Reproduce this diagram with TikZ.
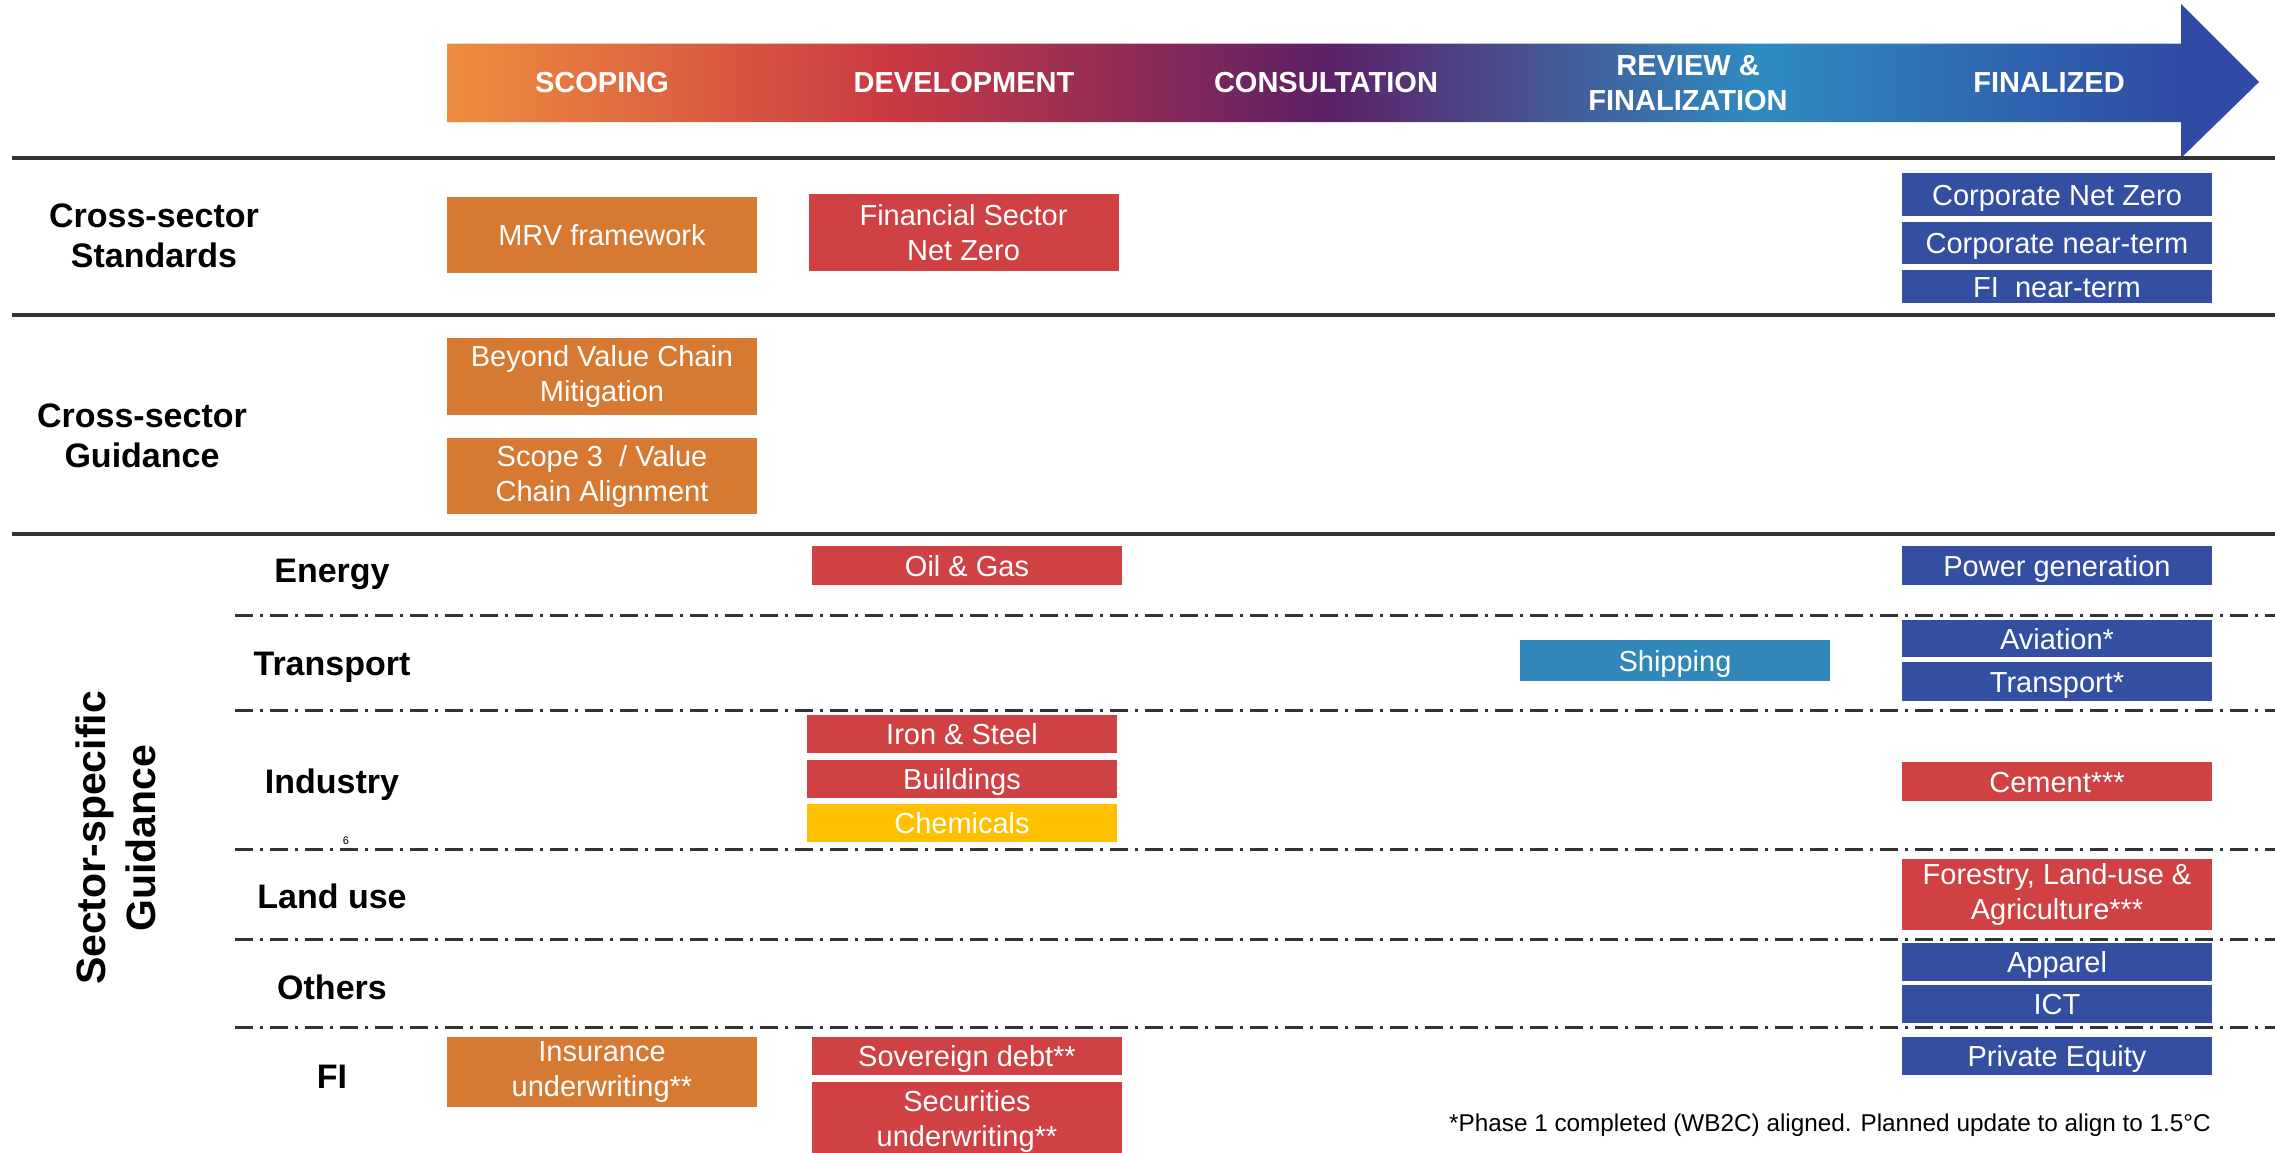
\documentclass[tikz,border=0pt]{standalone}
\usepackage{fontspec}
\setmainfont{Liberation Sans}
\definecolor{gA}{HTML}{EE8D3E}
\definecolor{gB}{HTML}{CB3A42}
\definecolor{gC}{HTML}{5D2066}
\definecolor{gD}{HTML}{2F8BC1}
\definecolor{gE}{HTML}{2F4BA3}
\definecolor{cOr}{HTML}{D67932}
\definecolor{cRd}{HTML}{D04143}
\definecolor{cBl}{HTML}{344EA2}
\definecolor{cSh}{HTML}{2F88B9}
\definecolor{cYe}{HTML}{FFC000}
\definecolor{cLn}{HTML}{333333}
\pgfdeclarehorizontalshading{stagegrad}{100bp}{color(0bp)=(gA); color(25bp)=(gA); color(37.2bp)=(gB); color(49.2bp)=(gC); color(61.2bp)=(gD); color(72.9bp)=(gE); color(100bp)=(gE)}
\begin{document}
\begin{tikzpicture}[x=1pt,y=-1pt,
  box/.style={rectangle, minimum width=310pt, inner sep=0pt, text=white, align=center, font=\fontsize{29}{35}\selectfont},
  one/.style={text height=21pt, text depth=0pt},
  obox/.style={box, fill=cOr},
  rbox/.style={box, fill=cRd},
  bbox/.style={box, fill=cBl},
  sbox/.style={box, fill=cSh},
  ybox/.style={box, fill=cYe},
  stage/.style={text=white, align=center, inner sep=0pt, font=\bfseries\fontsize{29}{35}\selectfont},
  rowlab/.style={align=center, inner sep=0pt, font=\bfseries\fontsize{34}{40}\selectfont},
  solidrule/.style={cLn, line width=3.5pt},
  dashrule/.style={cLn, line width=3pt, dash pattern=on 18pt off 7pt on 3pt off 7pt}]
\useasboundingbox[fill=white] (0,0) rectangle (2275,1152);

% stage arrow
\shade[shading=stagegrad] (447,43.5) -- (2181,43.5) -- (2181,4) -- (2259,82) -- (2181,158) -- (2181,122) -- (447,122) -- cycle;
\node[stage] (st1) at (602,83) {SCOPING};
\node[stage] (st2) at (964,83) {DEVELOPMENT};
\node[stage] (st3) at (1326,83) {CONSULTATION};
\node[stage] (st4) at (1688,83) {REVIEW \&\\FINALIZATION};
\node[stage] (st5) at (2049,83) {FINALIZED};

% rules
\coordinate (r1a) at (12,158);  \coordinate (r1b) at (2275,158);
\coordinate (r2a) at (12,315);  \coordinate (r2b) at (2275,315);
\coordinate (r3a) at (12,534);  \coordinate (r3b) at (2275,534);
\draw[solidrule] (r1a) -- (r1b);
\draw[solidrule] (r2a) -- (r2b);
\draw[solidrule] (r3a) -- (r3b);
\coordinate (d1a) at (235,615);  \coordinate (d1b) at (2275,615);
\coordinate (d2a) at (235,710);  \coordinate (d2b) at (2275,710);
\coordinate (d3a) at (235,849);  \coordinate (d3b) at (2275,849);
\coordinate (d4a) at (235,939);  \coordinate (d4b) at (2275,939);
\coordinate (d5a) at (235,1027); \coordinate (d5b) at (2275,1027);
\draw[dashrule] (d1a) -- (d1b);
\draw[dashrule] (d2a) -- (d2b);
\draw[dashrule] (d3a) -- (d3b);
\draw[dashrule] (d4a) -- (d4b);
\draw[dashrule] (d5a) -- (d5b);

% row labels
\node[rowlab] (lcs) at (154,236) {Cross-sector\\Standards};
\node[rowlab] (lcg) at (142,436) {Cross-sector\\Guidance};
\node[rowlab, rotate=90, font=\bfseries\fontsize{41}{50}\selectfont] (lss) at (116,838) {Sector-specific\\Guidance};
\node[rowlab] (len) at (332,574) {Energy};
\node[rowlab] (ltr) at (332,667) {Transport};
\node[rowlab] (lin) at (332,785) {Industry};
\node[rowlab] (llu) at (332,896) {Land use};
\node[rowlab] (lot) at (332,987) {Others};
\node[rowlab] (lfi) at (332,1077) {FI};
\node[inner sep=0pt, font=\fontsize{11}{11}\selectfont] (pg) at (346,841) {6};

% scoping column
\node[obox, one, minimum height=76pt] (mrv) at (602,235) {MRV framework};
\node[obox, minimum height=77pt] (bvc) at (602,376.5) {Beyond Value Chain\\Mitigation};
\node[obox, minimum height=76pt] (s3) at (602,476) {Scope 3~~/ Value\\Chain Alignment};
\node[obox, minimum height=70pt] (ins) at (602,1072) {Insurance\\underwriting**};

% development column
\node[rbox, minimum height=77pt] (fsnz) at (963.5,232.5) {Financial Sector\\Net Zero};
\node[rbox, one, minimum height=39pt] (oil) at (967,565.5) {Oil \& Gas};
\node[rbox, one, minimum height=38pt] (iron) at (962,734) {Iron \& Steel};
\node[rbox, one, minimum height=38pt] (bld) at (962,779) {Buildings};
\node[ybox, one, minimum height=38pt] (chem) at (962,823) {Chemicals};
\node[rbox, one, minimum height=38pt] (sov) at (967,1056) {Sovereign debt**};
\node[rbox, minimum height=78pt] (sec) at (967,1121) {Securities\\underwriting**};

% review column
\node[sbox, one, minimum height=41pt] (ship) at (1675,660.5) {Shipping};

% finalized column
\node[bbox, one, minimum height=43pt] (cnz) at (2057,194.5) {Corporate Net Zero};
\node[bbox, one, minimum height=42pt] (cnt) at (2057,243) {Corporate near-term};
\node[bbox, one, minimum height=33pt] (fnt) at (2057,286.5) {FI~~near-term};
\node[bbox, one, minimum height=39pt] (pow) at (2057,565.5) {Power generation};
\node[bbox, one, minimum height=37pt] (avi) at (2057,638.5) {Aviation*};
\node[bbox, one, minimum height=39pt] (tra) at (2057,681.5) {Transport*};
\node[rbox, one, minimum height=39pt] (cem) at (2057,781.5) {Cement***};
\node[rbox, minimum height=71pt] (flu) at (2057,894.5) {Forestry, Land-use \&\\Agriculture***};
\node[bbox, one, minimum height=38pt] (app) at (2057,962) {Apparel};
\node[bbox, one, minimum height=38pt] (ict) at (2057,1004) {ICT};
\node[bbox, one, minimum height=38pt] (pe) at (2057,1056) {Private Equity};

% footnote
\node[inner sep=0pt, font=\fontsize{24.3}{28}\selectfont] (fn) at (1830,1125) {*Phase 1 completed (WB2C) aligned. Planned update to align to 1.5°C};
\end{tikzpicture}
\end{document}
